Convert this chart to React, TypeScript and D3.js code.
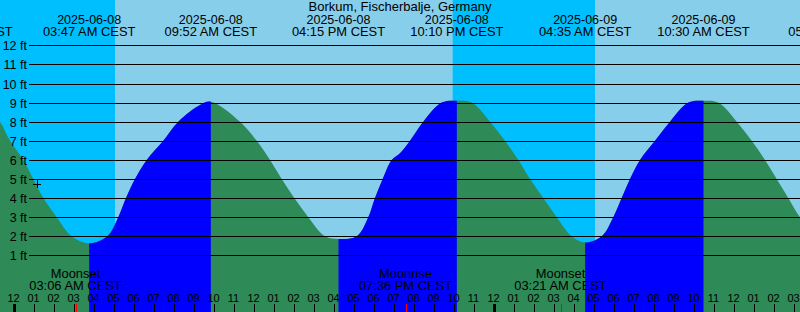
import * as d3 from "d3";

const chartTitle = "Borkum, Fischerbalje, Germany";

// hours counted from 2025-06-08 00:00 CEST
const tideHours = [
  -1.2, -0.675, -0.175, 0.49, 0.99, 1.49, 2.16, 2.91, 3.783, 4.69, 5.24, 5.625, 6.075, 6.66, 7.49, 8.24,
  9.325, 9.867, 11.325, 12.16, 12.825, 13.41, 14.04, 14.74, 15.575, 16.25, 17.16, 17.74, 18.075, 18.46,
  18.91, 19.325, 19.825, 20.49, 21.41, 22.167, 22.91, 23.825, 24.575, 25.24, 25.825, 26.49, 27.16, 27.91,
  28.583, 29.41, 29.99, 30.41, 30.825, 31.325, 32.075, 32.825, 33.74, 34.5, 35.24, 36.16, 36.91, 37.575,
  38.16, 38.74, 39.325, 40.0,
];
const tideFeet = [
  8.6, 8.0, 7, 6, 5, 4, 3, 2, 1.63, 2, 3, 4, 5, 6, 7, 8,
  8.87, 9.05, 8, 7, 6, 5, 4, 3, 2, 1.86, 2, 3, 4, 5,
  6, 6.35, 7, 8, 9, 9.1, 9, 8, 7, 6, 5, 4, 3, 2,
  1.67, 2, 3, 4, 5, 6, 7, 8, 9, 9.1, 9, 8, 7, 6,
  5, 4, 3, 2.3,
];

const extremeHours = [-2.37, 3.783, 9.867, 16.25, 22.167, 28.583, 34.5, 41.07];
const extremeKinds = ["high", "low", "high", "low", "high", "low", "high", "low"];
const extremeDates = [
  "2025-06-07", "2025-06-08", "2025-06-08", "2025-06-08", "2025-06-08", "2025-06-09", "2025-06-09", "2025-06-09",
];
const extremeTimes = [
  "09:38 PM CEST", "03:47 AM CEST", "09:52 AM CEST", "04:15 PM CEST",
  "10:10 PM CEST", "04:35 AM CEST", "10:30 AM CEST", "05:04 PM CEST",
];

const moonHours = [3.1, 19.6, 27.35];
const moonNames = ["Moonset", "Moonrise", "Moonset"];
const moonTimes = ["03:06 AM CEST", "07:36 PM CEST", "03:21 AM CEST"];

const sunriseHours = [5.075, 29.075];
const sunsetHours = [21.96];

const feetTicks = [1, 2, 3, 4, 5, 6, 7, 8, 9, 10, 11, 12];
const nowHour = 1.19;
const nowFeet = 4.72;

const W = 800;
const H = 312;
const FONT = "'Liberation Sans', Arial, sans-serif";

export default function App() {
  const x = d3.scaleLinear().domain([0, 24]).range([13.5, 493.5]);
  const y = d3.scaleLinear().domain([0, 12]).range([274.5, 45.3]);
  const h0 = x.invert(0);
  const h1 = x.invert(W);

  const pts = tideHours.map((h, i) => [h, tideFeet[i]] as [number, number]);
  const area = d3.area<[number, number]>()
    .x(d => x(d[0]))
    .y0(H)
    .y1(d => y(d[1]))
    .curve(d3.curveCatmullRom.alpha(0.5));
  const areaPath = area(pts) ?? "";

  // rising tide: from each low to the next high
  const rising: [number, number][] = [];
  extremeKinds.forEach((k, i) => {
    if (k === "low" && i + 1 < extremeHours.length) rising.push([extremeHours[i], extremeHours[i + 1]]);
  });

  const nights: [number, number][] = [[h0 - 1, sunriseHours[0]]];
  sunsetHours.forEach((s, i) => nights.push([s, sunriseHours[i + 1] ?? h1 + 1]));

  const hours = d3.range(Math.floor(h0), Math.ceil(h1) + 1);
  const hourLabel = (h: number) => {
    const m = ((h % 12) + 12) % 12;
    return d3.format("02")(m === 0 ? 12 : m);
  };

  return (
    <svg width={W} height={H} style={{ position: "absolute", left: 0, top: 0 }} fontFamily={FONT}>
      <defs>
        <clipPath id="rising">
          {rising.map(([a, b], i) => (
            <rect key={i} x={x(a)} y={0} width={x(b) - x(a)} height={H} />
          ))}
        </clipPath>
      </defs>

      {/* day / night */}
      <rect x={0} y={0} width={W} height={H} fill="#87CEEB" />
      {nights.map(([a, b], i) => (
        <rect key={i} x={x(a)} y={0} width={x(b) - x(a)} height={H} fill="#00BFFF" />
      ))}

      {/* tide: falling green, rising blue */}
      <path d={areaPath} fill="#2E8B57" />
      <path d={areaPath} fill="#0000FF" clipPath="url(#rising)" />

      {/* feet grid */}
      <g fontSize={12.5} fill="#000">
        {feetTicks.map(f => {
          const yy = Math.round(y(f)) + 0.5;
          return (
            <g key={f}>
              <line x1={29} x2={W} y1={yy} y2={yy} stroke="#000" shapeRendering="crispEdges" />
              <text x={27} y={yy + 4.5} textAnchor="end">{`${f} ft`}</text>
            </g>
          );
        })}
      </g>

      {/* current time marker */}
      <g stroke="#000" shapeRendering="crispEdges">
        <line x1={x(nowHour) - 4} x2={x(nowHour) + 4} y1={Math.round(y(nowFeet)) + 0.5} y2={Math.round(y(nowFeet)) + 0.5} />
        <line x1={Math.round(x(nowHour)) + 0.5} x2={Math.round(x(nowHour)) + 0.5} y1={y(nowFeet) - 4} y2={y(nowFeet) + 4} />
      </g>

      {/* title and tide extremes */}
      <text x={W / 2} y={11} textAnchor="middle" fontSize={13}>{chartTitle}</text>
      <g textAnchor="middle">
        {extremeHours.map((h, i) => (
          <g key={i}>
            <text x={x(h)} y={24} fontSize={12.5}>{extremeDates[i]}</text>
            <text x={x(h)} y={36} fontSize={12.9}>{extremeTimes[i]}</text>
          </g>
        ))}
      </g>

      {/* moon events */}
      <g fontSize={12.9} textAnchor="middle">
        {moonHours.map((h, i) => (
          <g key={i}>
            <text x={x(h)} y={277.5}>{moonNames[i]}</text>
            <text x={x(h)} y={290}>{moonTimes[i]}</text>
          </g>
        ))}
      </g>

      {/* hour axis */}
      <g fontSize={11} textAnchor="middle">
        {hours.map(h => (
          <text key={h} x={x(h)} y={301.5}>{hourLabel(h)}</text>
        ))}
      </g>
      <g shapeRendering="crispEdges">
        {hours.map(h => (
          <rect key={h} x={Math.round(x(h)) - (h % 24 === 0 ? 1.5 : 0.5)} y={304} width={h % 24 === 0 ? 3 : 1} height={8} fill="#000" />
        ))}
        {moonHours.map((h, i) => (
          <rect key={i} x={Math.round(x(h)) - 0.5} y={304} width={1} height={8} fill="#FF0000" />
        ))}
      </g>
    </svg>
  );
}
